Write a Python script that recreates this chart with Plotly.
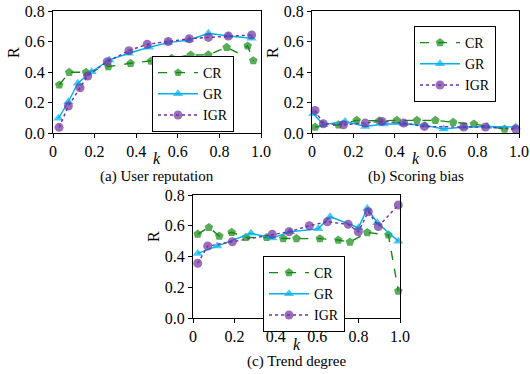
import plotly.graph_objects as go

# ---------------- data ----------------
x_tickvals = [0, 0.2, 0.4, 0.6, 0.8, 1.0]
x_ticktext = ["0", "0.2", "0.4", "0.6", "0.8", "1.0"]
y_tickvals = [0, 0.2, 0.4, 0.6, 0.8]
y_ticktext = ["0.0", "0.2", "0.4", "0.6", "0.8"]

series_names = ["CR", "GR", "IGR"]
captions = ["(a) User reputation", "(b) Scoring bias", "(c) Trend degree"]

# (a) User reputation
cr_a_k = [0.03, 0.078, 0.159, 0.266, 0.373, 0.472, 0.57, 0.662, 0.747, 0.835, 0.886, 0.936, 0.963]
cr_a_r = [0.315, 0.398, 0.398, 0.435, 0.457, 0.472, 0.49, 0.511, 0.513, 0.562, 0.527, 0.571, 0.474]
gr_a_k = [0.026, 0.074, 0.119, 0.186, 0.271, 0.365, 0.462, 0.554, 0.655, 0.747, 0.843, 0.955]
gr_a_r = [0.096, 0.205, 0.326, 0.402, 0.479, 0.523, 0.562, 0.593, 0.61, 0.654, 0.636, 0.621]
igr_a_k = [0.029, 0.074, 0.13, 0.167, 0.261, 0.365, 0.453, 0.554, 0.655, 0.747, 0.843, 0.955]
igr_a_r = [0.037, 0.177, 0.297, 0.374, 0.468, 0.54, 0.582, 0.6, 0.618, 0.627, 0.636, 0.643]

# (b) Scoring bias
cr_b_k = [0.015, 0.128, 0.216, 0.325, 0.41, 0.507, 0.596, 0.682, 0.782, 0.93]
cr_b_r = [0.039, 0.054, 0.083, 0.080, 0.083, 0.083, 0.083, 0.07, 0.059, 0.026]
gr_b_k = [0.006, 0.055, 0.16, 0.257, 0.346, 0.443, 0.545, 0.636, 0.733, 0.846, 0.984]
gr_b_r = [0.126, 0.054, 0.076, 0.043, 0.059, 0.061, 0.05, 0.026, 0.039, 0.043, 0.039]
igr_b_k = [0.015, 0.055, 0.152, 0.257, 0.338, 0.443, 0.543, 0.733, 0.838, 0.984]
igr_b_r = [0.148, 0.061, 0.054, 0.065, 0.076, 0.065, 0.043, 0.039, 0.039, 0.026]

# (c) Trend degree
cr_c_k = [0.023, 0.077, 0.127, 0.187, 0.256, 0.356, 0.436, 0.5, 0.613, 0.702, 0.758, 0.842, 0.944, 0.992]
cr_c_r = [0.546, 0.589, 0.533, 0.557, 0.524, 0.524, 0.517, 0.517, 0.516, 0.507, 0.494, 0.556, 0.54, 0.175]
gr_c_k = [0.023, 0.117, 0.28, 0.383, 0.469, 0.605, 0.662, 0.799, 0.842, 0.89, 0.992]
gr_c_r = [0.42, 0.468, 0.551, 0.52, 0.561, 0.58, 0.659, 0.587, 0.713, 0.62, 0.50]
igr_c_k = [0.023, 0.071, 0.19, 0.383, 0.464, 0.562, 0.649, 0.75, 0.799, 0.847, 0.895, 0.992]
igr_c_r = [0.356, 0.468, 0.496, 0.544, 0.561, 0.6, 0.626, 0.609, 0.561, 0.691, 0.595, 0.735]

# ---------------- styling ----------------
W, H = 530, 374
FONT = "Liberation Serif"
colors = {"CR": "#138A13", "GR": "#00B0F0", "IGR": "#7030A0"}
symbols = {"CR": "pentagon", "GR": "triangle-up", "IGR": "circle"}
dashes = {"CR": "dash", "GR": "solid", "IGR": "dot"}
msizes = {"CR": 9, "GR": 9, "IGR": 9}

# panel boxes in pixels: (left, right, top, bottom)
boxes = [(53, 261, 11, 133), (312, 519, 11, 133), (193, 400, 195, 318)]
legend_pos = [(152, 56), (414, 26), (263, 256)]

def px(x):
    return x / W

def py(y):
    return 1 - y / H

panels = [
    {"CR": (cr_a_k, cr_a_r), "GR": (gr_a_k, gr_a_r), "IGR": (igr_a_k, igr_a_r)},
    {"CR": (cr_b_k, cr_b_r), "GR": (gr_b_k, gr_b_r), "IGR": (igr_b_k, igr_b_r)},
    {"CR": (cr_c_k, cr_c_r), "GR": (gr_c_k, gr_c_r), "IGR": (igr_c_k, igr_c_r)},
]

fig = go.Figure()
legend_ids = ["legend", "legend2", "legend3"]

for i, panel in enumerate(panels):
    ax = "" if i == 0 else str(i + 1)
    for name in series_names:
        kx, ry = panel[name]
        sizes = [msizes[name]] * len(kx)
        if i == 0 and name == "CR":
            sizes[10] = 0  # unmarked vertex in the original line
        fig.add_trace(go.Scatter(
            x=kx, y=ry, name=name, mode="lines+markers",
            xaxis="x" + ax, yaxis="y" + ax,
            legend=legend_ids[i],
            line=dict(color=colors[name], width=1.4, dash=dashes[name]),
            marker=dict(symbol=symbols[name], size=sizes, color=colors[name],
                        line=dict(width=0)),
            cliponaxis=False,
        ))

layout = dict(
    width=W, height=H,
    margin=dict(l=0, r=0, t=0, b=0, pad=0, autoexpand=False),
    paper_bgcolor="white", plot_bgcolor="white",
    font=dict(family=FONT, size=15, color="black"),
    showlegend=True,
)

axis_common = dict(showline=True, linecolor="black", linewidth=1, mirror=True,
                   ticks="outside", ticklen=4, tickcolor="black", tickwidth=1,
                   showgrid=False, zeroline=False, automargin=False,
                   tickfont=dict(family=FONT, size=16, color="black"))

annotations = []
for i, (l, r, t, b) in enumerate(boxes):
    ax = "" if i == 0 else str(i + 1)
    layout["xaxis" + ax] = dict(axis_common, domain=[px(l), px(r)], range=[0, 1],
                                tickvals=x_tickvals, ticktext=x_ticktext,
                                anchor="y" + ax)
    layout["yaxis" + ax] = dict(axis_common, domain=[py(b), py(t)], range=[0, 0.8],
                                tickvals=y_tickvals, ticktext=y_ticktext,
                                anchor="x" + ax)
    lx, ly = legend_pos[i]
    layout[legend_ids[i]] = dict(
        x=px(lx), y=py(ly), xanchor="left", yanchor="top",
        xref="paper", yref="paper",
        bgcolor="white", bordercolor="black", borderwidth=1,
        font=dict(family=FONT, size=14, color="black"),
        tracegroupgap=0, itemwidth=40,
    )
    cx = (l + r) / 2
    annotations.append(dict(text="<i>k</i>", x=px(cx), y=py(b + 26), xref="paper", yref="paper",
                            showarrow=False, font=dict(family=FONT, size=16),
                            xanchor="center", yanchor="middle"))
    annotations.append(dict(text=captions[i], x=px(cx), y=py(b + 43), xref="paper", yref="paper",
                            showarrow=False, font=dict(family=FONT, size=15),
                            xanchor="center", yanchor="middle"))
    annotations.append(dict(text="R", x=px(l - 40), y=py(t + 42), xref="paper", yref="paper",
                            showarrow=False, textangle=-90, font=dict(family=FONT, size=16),
                            xanchor="center", yanchor="middle"))

layout["annotations"] = annotations
fig.update_layout(**layout)
fig.write_html("out.html",
               config={"displayModeBar": False},
               post_script="document.body.style.margin='0px';document.body.style.padding='0px';")
